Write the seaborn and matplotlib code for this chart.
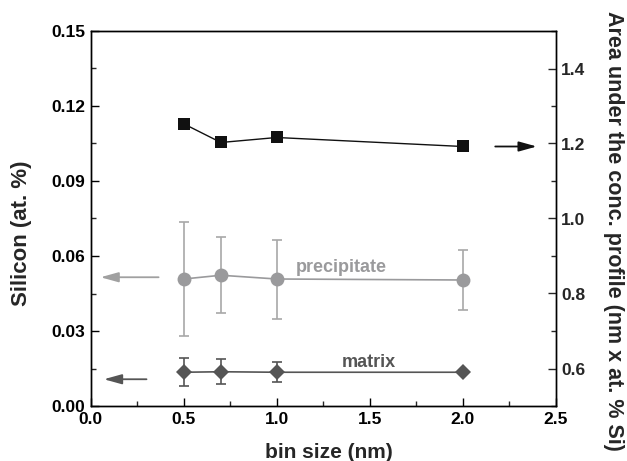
import matplotlib
matplotlib.use("Agg")
import matplotlib.pyplot as plt
import seaborn as sns
import numpy as np
import pandas as pd
from matplotlib.ticker import MultipleLocator, FixedLocator, FormatStrFormatter

# ---- data ----
bin_size = [0.5, 0.7, 1.0, 2.0]
precipitate = [0.0508, 0.0523, 0.0508, 0.0504]
precipitate_err = [0.0226, 0.0151, 0.0158, 0.0121]
matrix = [0.0135, 0.0137, 0.0135, 0.0135]
matrix_err = [0.0056, 0.0050, 0.0040, 0.0]
area = [1.2525, 1.2027, 1.216, 1.192]

sns.set_theme(style="ticks")
plt.rcParams['font.family'] = ['Liberation Sans', 'DejaVu Sans']
plt.rcParams['font.weight'] = 'bold'

fig = plt.figure(figsize=(6.27, 4.61), dpi=100)
ax = fig.add_axes([90.7/627, 1-406/461, 465/627, 375/461])
ax2 = ax.twinx()

c_pre = '#9a9a9c'
c_mat = '#555555'

df = pd.DataFrame({'x': bin_size, 'pre': precipitate, 'mat': matrix, 'area': area})

ax.errorbar(bin_size, precipitate, yerr=precipitate_err, fmt='none', ecolor='#a8a8a8',
            elinewidth=1.2, capsize=3.5, capthick=1.2, zorder=2)
ax.errorbar(bin_size, matrix, yerr=matrix_err, fmt='none', ecolor=c_mat,
            elinewidth=1.2, capsize=3.5, capthick=1.2, zorder=2)
sns.lineplot(data=df, x='x', y='pre', ax=ax, color=c_pre, marker='o', markersize=10,
             markeredgewidth=0, linewidth=1.2, zorder=3)
sns.lineplot(data=df, x='x', y='mat', ax=ax, color=c_mat, marker='D', markersize=8.5,
             markeredgewidth=0, linewidth=1.2, zorder=3)
sns.lineplot(data=df, x='x', y='area', ax=ax2, color='#111111', marker='s', markersize=8.5,
             markeredgewidth=0, linewidth=1.0, zorder=3)

ax.set_xlim(0, 2.5)
ax.set_ylim(0, 0.15)
ax2.set_ylim(0.5, 1.5)
ax.xaxis.set_major_locator(MultipleLocator(0.5))
ax.xaxis.set_minor_locator(MultipleLocator(0.25))
ax.yaxis.set_major_locator(MultipleLocator(0.03))
ax.yaxis.set_minor_locator(MultipleLocator(0.015))
ax2.yaxis.set_major_locator(FixedLocator([0.6, 0.8, 1.0, 1.2, 1.4]))
ax2.yaxis.set_minor_locator(MultipleLocator(0.1))
ax.xaxis.set_major_formatter(FormatStrFormatter('%.1f'))
ax.yaxis.set_major_formatter(FormatStrFormatter('%.2f'))
ax2.yaxis.set_major_formatter(FormatStrFormatter('%.1f'))

for a in (ax, ax2):
    for s in a.spines.values():
        s.set_linewidth(1.0)
        s.set_color('black')
ax.tick_params(axis='both', which='major', direction='in', length=6, width=1, labelsize=12.5, colors='black', pad=4)
ax.tick_params(axis='both', which='minor', direction='in', length=3.5, width=1)
ax.tick_params(top=False, which='both')
ax2.tick_params(axis='y', which='major', direction='in', length=6, width=1, labelsize=12.5, pad=4)
ax2.tick_params(axis='y', which='minor', direction='in', length=3.5, width=1)
for lab in ax.get_xticklabels() + ax.get_yticklabels() + ax2.get_yticklabels():
    lab.set_fontweight('bold')

ax.set_xlabel('bin size (nm)', fontsize=15, fontweight='bold')
ax.set_ylabel('Silicon (at. %)', fontsize=16, fontweight='bold')
ax2.set_ylabel('Area under the conc. profile (nm x at. % Si)', fontsize=15.5,
               fontweight='bold', rotation=270)
ax.xaxis.set_label_coords(0.5125, -0.125)
ax.xaxis.label.set_va('center')
ax.yaxis.set_label_coords(-0.148, 0.461)
ax.yaxis.label.set_va('center')
ax2.yaxis.set_label_coords(1.125, 0.466)
ax2.yaxis.label.set_va('center')

ax.text(1.348, 0.0556, 'precipitate', color=c_pre, fontsize=13, fontweight='bold',
        ha='center', va='center')
ax.text(1.493, 0.0173, 'matrix', color=c_mat, fontsize=13, fontweight='bold',
        ha='center', va='center')

ax.annotate('', xy=(0.038, 0.0515), xytext=(0.38, 0.0515),
            arrowprops=dict(arrowstyle='-|>,head_length=0.9,head_width=0.25', color='#a0a0a0', lw=1.3))
ax.annotate('', xy=(0.056, 0.0107), xytext=(0.315, 0.0107),
            arrowprops=dict(arrowstyle='-|>,head_length=0.9,head_width=0.25', color=c_mat, lw=1.3))
ax2.annotate('', xy=(2.413, 1.192), xytext=(2.16, 1.192),
             arrowprops=dict(arrowstyle='-|>,head_length=0.9,head_width=0.25', color='#111111', lw=1.3))

fig.savefig('out.png', dpi=100)
